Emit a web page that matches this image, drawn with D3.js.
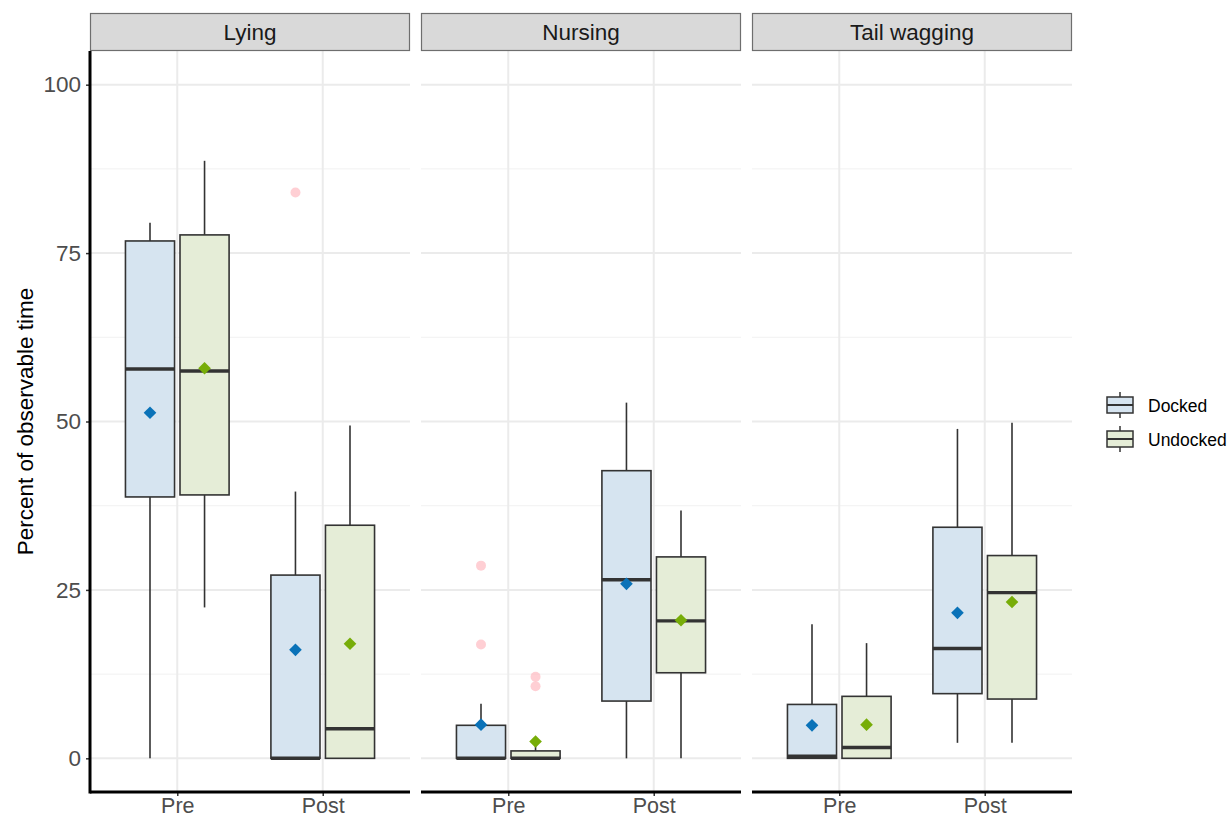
<!DOCTYPE html>
<html>
<head>
<meta charset="utf-8">
<script src="https://cdn.jsdelivr.net/npm/d3@7"></script>
<style>
  html, body { margin: 0; padding: 0; background: #fff; }
  svg { display: block; font-family: "Liberation Sans", Arial, Helvetica, sans-serif; }
</style>
</head>
<body>
<svg id="chart" width="1231" height="819"></svg>
<script>
// ---- Data ----
const facets = ["Lying", "Nursing", "Tail wagging"];
const times = ["Pre", "Post"];
const groups = ["Docked", "Undocked"];
const yTicks = [0, 25, 50, 75, 100];
const yTitle = "Percent of observable time";

// Order: facet -> time -> group
const whiskerLow  = [0, 22.4, 0, 0,    0, 0, 0, 0,       0, 0, 2.3, 2.3];
const q1          = [38.8, 39.1, 0, 0, 0, 0, 8.5, 12.7,  0, 0, 9.6, 8.8];
const median      = [57.8, 57.5, 0, 4.4, 0, 0, 26.5, 20.4, 0.3, 1.6, 16.3, 24.6];
const q3          = [76.8, 77.7, 27.2, 34.6, 4.9, 1.1, 42.7, 29.9, 8.0, 9.2, 34.3, 30.1];
const whiskerHigh = [79.5, 88.7, 39.6, 49.4, 8.1, 2.4, 52.8, 36.8, 19.9, 17.1, 48.9, 49.8];
const means       = [51.3, 57.9, 16.1, 17.0, 5.0, 2.5, 25.9, 20.5, 4.9, 5.0, 21.6, 23.2];

const outlierFacet = ["Lying", "Nursing", "Nursing", "Nursing", "Nursing"];
const outlierTime  = ["Post", "Pre", "Pre", "Pre", "Pre"];
const outlierGroup = ["Docked", "Docked", "Docked", "Undocked", "Undocked"];
const outlierValue = [84.0, 28.6, 16.9, 12.1, 10.7];

const fillColors = ["#d6e4f0", "#e5edd7"];
const meanColors = ["#0a72b8", "#77ad08"];

// ---- Build records ----
const boxes = [];
let i = 0;
facets.forEach(f => times.forEach(t => groups.forEach(g => {
  boxes.push({facet: f, time: t, group: g, lo: whiskerLow[i], q1: q1[i], med: median[i],
              q3: q3[i], hi: whiskerHigh[i], mean: means[i]});
  i++;
})));
const outliers = outlierValue.map((v, k) => ({facet: outlierFacet[k], time: outlierTime[k], group: outlierGroup[k], value: v}));

// ---- Layout ----
const svg = d3.select("#chart");
const pw = 320;
const panelStarts = [90, 421, 752];
const plotTop = 51, plotBottom = 792, stripTop = 13;

const y = d3.scaleLinear().domain([-5, 105]).range([plotBottom, plotTop]);
const x = d3.scalePoint().domain(times).range([0, pw]).padding(0.6);
const step = x.step();
const xg = d3.scaleBand().domain(groups).range([-0.375 * step, 0.375 * step]);
const bw = xg.bandwidth() * 0.9;
const color = d3.scaleOrdinal().domain(groups).range(fillColors);
const mcolor = d3.scaleOrdinal().domain(groups).range(meanColors);

const minorTicks = d3.range(12.5, 105, 25);

facets.forEach((f, fi) => {
  const x0 = panelStarts[fi];
  const p = svg.append("g").attr("transform", `translate(${x0},0)`);

  // grid
  p.selectAll(".gminor").data(minorTicks).join("line")
    .attr("x1", 0).attr("x2", pw).attr("y1", d => y(d)).attr("y2", d => y(d))
    .attr("stroke", "#f1f1f1").attr("stroke-width", 1);
  p.selectAll(".gmajor").data(yTicks).join("line")
    .attr("x1", 0).attr("x2", pw).attr("y1", d => y(d)).attr("y2", d => y(d))
    .attr("stroke", "#ebebeb").attr("stroke-width", 2);
  p.selectAll(".gx").data(times).join("line")
    .attr("x1", d => x(d)).attr("x2", d => x(d)).attr("y1", plotTop).attr("y2", plotBottom)
    .attr("stroke", "#ebebeb").attr("stroke-width", 2);

  // strip
  p.append("rect").attr("x", 0.5).attr("y", stripTop + 0.5).attr("width", pw - 1).attr("height", plotTop - stripTop - 1)
    .attr("fill", "#d9d9d9").attr("stroke", "#6e6e6e").attr("stroke-width", 1.2);
  p.append("text").attr("x", pw / 2).attr("y", (stripTop + plotTop) / 2 + 8)
    .attr("text-anchor", "middle").attr("font-size", 22.5).attr("fill", "#1a1a1a").text(f);

  const data = boxes.filter(b => b.facet === f);
  const cx = b => x(b.time) + xg(b.group) + xg.bandwidth() / 2;

  // whiskers
  p.selectAll(".wh").data(data).join("line")
    .attr("x1", cx).attr("x2", cx).attr("y1", d => y(d.q3)).attr("y2", d => y(d.hi))
    .attr("stroke", "#333").attr("stroke-width", 1.6);
  p.selectAll(".wl").data(data).join("line")
    .attr("x1", cx).attr("x2", cx).attr("y1", d => y(d.q1)).attr("y2", d => y(d.lo))
    .attr("stroke", "#333").attr("stroke-width", 1.6);
  // boxes
  p.selectAll(".bx").data(data).join("rect")
    .attr("x", d => cx(d) - bw / 2).attr("width", bw)
    .attr("y", d => y(d.q3)).attr("height", d => y(d.q1) - y(d.q3))
    .attr("fill", d => color(d.group)).attr("stroke", "#333").attr("stroke-width", 1.6);
  // medians
  p.selectAll(".md").data(data).join("line")
    .attr("x1", d => cx(d) - bw / 2).attr("x2", d => cx(d) + bw / 2)
    .attr("y1", d => y(d.med)).attr("y2", d => y(d.med))
    .attr("stroke", "#333").attr("stroke-width", 3.4);
  // outliers
  const od = outliers.filter(o => o.facet === f);
  p.selectAll(".ol").data(od).join("circle")
    .attr("cx", d => x(d.time) + xg(d.group) + xg.bandwidth() / 2)
    .attr("cy", d => y(d.value)).attr("r", 5)
    .attr("fill", "#ffb6bd").attr("fill-opacity", 0.65);
  // means (diamonds)
  p.selectAll(".mn").data(data).join("path")
    .attr("d", d3.symbol().type(d3.symbolSquare).size(80))
    .attr("transform", d => `translate(${cx(d)},${y(d.mean)}) rotate(45)`)
    .attr("fill", d => mcolor(d.group));

  // bottom axis
  const ax = p.append("g").attr("transform", `translate(0,${plotBottom})`)
    .call(d3.axisBottom(x).tickSize(4).tickPadding(2));
  ax.select(".domain").remove();
  ax.selectAll(".tick line").attr("stroke", "#333").attr("stroke-width", 1.5);
  ax.selectAll(".tick text").attr("font-size", 21.5).attr("fill", "#4d4d4d")
    .attr("font-family", "Liberation Sans, Arial, sans-serif");
  p.append("line").attr("x1", 0).attr("x2", pw).attr("y1", plotBottom).attr("y2", plotBottom)
    .attr("stroke", "#000").attr("stroke-width", 3);
});

// left axis
const ay = svg.append("g").attr("transform", `translate(${panelStarts[0]},0)`)
  .call(d3.axisLeft(y).tickValues(yTicks).tickSize(4).tickPadding(5));
ay.select(".domain").remove();
ay.selectAll(".tick line").attr("stroke", "#333").attr("stroke-width", 1.5);
ay.selectAll(".tick text").attr("font-size", 22.5).attr("fill", "#4d4d4d")
  .attr("font-family", "Liberation Sans, Arial, sans-serif");
svg.append("line").attr("x1", panelStarts[0]).attr("x2", panelStarts[0])
  .attr("y1", plotTop).attr("y2", plotBottom + 1.5).attr("stroke", "#000").attr("stroke-width", 3);

// y title
svg.append("text").attr("transform", `translate(33,${(plotTop + plotBottom) / 2}) rotate(-90)`)
  .attr("text-anchor", "middle").attr("font-size", 22.5).attr("fill", "#000").text(yTitle);

// legend
const lg = svg.append("g").attr("transform", "translate(1107,392)");
groups.forEach((g, k) => {
  const gy = k * 34;
  const item = lg.append("g").attr("transform", `translate(0,${gy})`);
  item.append("line").attr("x1", 13).attr("x2", 13).attr("y1", 0).attr("y2", 26)
    .attr("stroke", "#333").attr("stroke-width", 1.5);
  item.append("rect").attr("x", 0).attr("y", 5).attr("width", 26).attr("height", 16)
    .attr("fill", color(g)).attr("stroke", "#333").attr("stroke-width", 1.5);
  item.append("line").attr("x1", 0).attr("x2", 26).attr("y1", 13).attr("y2", 13)
    .attr("stroke", "#333").attr("stroke-width", 2);
  item.append("text").attr("x", 41).attr("y", 19.5).attr("font-size", 17.5).attr("fill", "#000").text(g);
});
</script>
</body>
</html>
